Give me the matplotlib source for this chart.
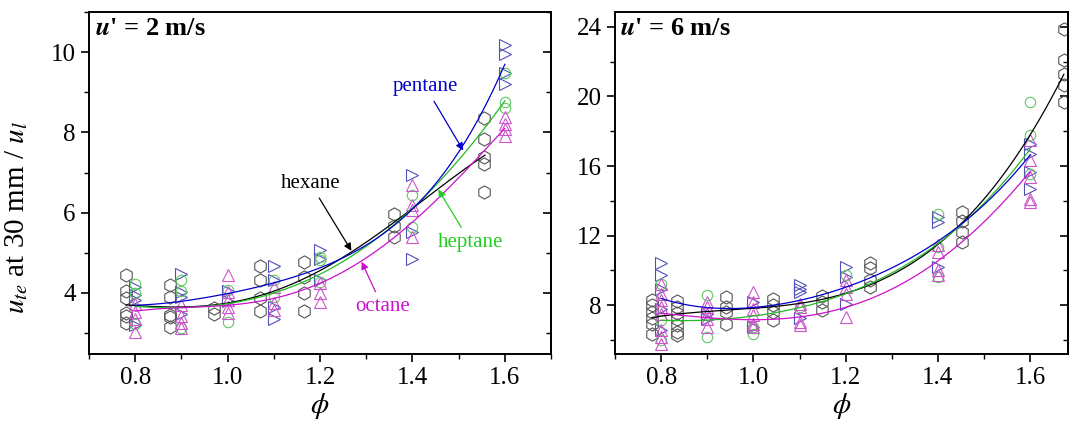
import numpy as np
import matplotlib
matplotlib.use("Agg")
import matplotlib.pyplot as plt
from matplotlib.ticker import MultipleLocator

plt.rcParams['font.family'] = ['Liberation Serif', 'DejaVu Serif']
plt.rcParams['mathtext.fontset'] = 'stix'

# ---- u' = 2 m/s : measured points ----
hex2_phi = [0.78]*6 + [0.875]*5 + [0.97]*2 + [1.07]*4 + [1.165]*4 + [1.36]*3 + [1.555]*5
hex2_val = [4.45, 4.05, 3.88, 3.50, 3.42, 3.25,
            4.20, 3.89, 3.45, 3.41, 3.16,
            3.62, 3.47,
            4.68, 4.32, 3.87, 3.55,
            4.78, 4.39, 4.00, 3.55,
            5.98, 5.67, 5.40,
            8.35, 7.84, 7.38, 7.22, 6.51]
pen2_phi = [0.8]*4 + [0.9]*4 + [1.0]*2 + [1.1]*4 + [1.2]*3 + [1.4]*3 + [1.6]*4
pen2_val = [4.15, 3.95, 3.83, 3.20,
            4.47, 4.03, 3.89, 3.47,
            4.05, 3.80,
            4.68, 4.32, 3.66, 3.35,
            5.08, 4.84, 4.32,
            6.93, 5.52, 4.84,
            10.17, 9.95, 9.49, 9.20]
hep2_phi = [0.8]*3 + [0.9]*3 + [1.0]*2 + [1.1]*2 + [1.2]*3 + [1.4]*2 + [1.6]*3
hep2_val = [4.22, 4.00, 3.22,
            4.32, 4.05, 3.12,
            4.07, 3.27,
            4.32, 3.90,
            4.90, 4.82, 4.28,
            6.45, 5.65,
            9.47, 8.75, 8.62]
oct2_phi = [0.8]*4 + [0.9]*4 + [1.0]*5 + [1.1]*3 + [1.2]*3 + [1.4]*4 + [1.6]*4
oct2_val = [3.73, 3.52, 3.35, 3.04,
            3.70, 3.42, 3.26, 3.12,
            4.45, 4.03, 3.83, 3.66, 3.50,
            4.16, 3.75, 3.58,
            4.26, 4.00, 3.78,
            6.68, 6.18, 6.06, 5.40,
            8.38, 8.21, 8.09, 7.92]

# ---- u' = 2 m/s : fitted curves ----
hex2_fit_phi = [0.78, 0.9, 1.0, 1.1, 1.2, 1.3, 1.4, 1.5, 1.557]
hex2_fit_val = [3.70, 3.66, 3.76, 4.02, 4.55, 5.30, 6.10, 6.95, 7.45]
pen2_fit_phi = [0.8, 0.9, 1.0, 1.1, 1.2, 1.3, 1.4, 1.5, 1.6]
pen2_fit_val = [3.69, 3.81, 3.98, 4.24, 4.62, 5.22, 6.08, 7.50, 9.70]
hep2_fit_phi = [0.8, 0.9, 1.0, 1.1, 1.2, 1.3, 1.4, 1.5, 1.6]
hep2_fit_val = [3.66, 3.65, 3.73, 3.99, 4.45, 5.20, 6.10, 7.30, 8.79]
oct2_fit_phi = [0.8, 0.9, 1.0, 1.1, 1.2, 1.3, 1.4, 1.5, 1.6]
oct2_fit_val = [3.56, 3.60, 3.70, 3.91, 4.22, 4.86, 5.75, 6.90, 8.09]

# ---- u' = 6 m/s : measured points ----
hex6_phi = [0.78]*6 + [0.834]*7 + [0.94]*4 + [1.043]*4 + [1.148]*3 + [1.253]*4 + [1.453]*4 + [1.673]*5
hex6_val = [8.33, 8.00, 7.62, 7.29, 6.91, 6.37,
            8.25, 7.90, 7.56, 7.23, 6.85, 6.47, 6.28,
            8.48, 7.90, 7.62, 6.95,
            8.38, 8.00, 7.62, 7.14,
            8.52, 8.19, 7.71,
            10.40, 10.15, 9.44, 9.05,
            13.36, 12.85, 12.21, 11.64,
            23.90, 22.08, 21.28, 20.64, 19.68]
pen6_phi = [0.8]*5 + [0.9]*2 + [1.0]*2 + [1.1]*4 + [1.2]*3 + [1.4]*3 + [1.6]*4
pen6_val = [10.43, 9.72, 8.96, 7.81, 6.56,
            7.52, 7.20,
            8.19, 6.75,
            9.15, 8.96, 8.76, 7.25,
            10.17, 9.63, 8.10,
            13.07, 12.79, 10.20,
            17.29, 16.68, 15.66, 14.70]
hep6_phi = [0.8]*3 + [0.9]*2 + [1.0]*2 + [1.1] + [1.2] + [1.4]*3 + [1.6]*3
hep6_val = [9.25, 7.14, 5.99,
            8.57, 6.18,
            6.75, 6.37,
            7.90,
            9.72,
            13.27, 11.35, 9.63,
            19.68, 17.77, 15.57]
oct6_phi = [0.8]*8 + [0.9]*5 + [1.0]*6 + [1.1]*4 + [1.2]*4 + [1.4]*4 + [1.6]*5
oct6_val = [9.25, 8.67, 8.29, 7.90, 7.52, 6.56, 6.18, 5.80,
            8.19, 7.90, 7.52, 7.23, 6.75,
            8.76, 8.19, 7.81, 7.43, 6.95, 6.75,
            8.10, 7.90, 7.04, 6.85,
            9.44, 9.05, 8.67, 7.33,
            11.45, 11.06, 10.01, 9.72,
            17.48, 16.33, 15.37, 14.13, 13.94]

# ---- u' = 6 m/s : fitted curves ----
hex6_fit_phi = [0.78, 0.9, 1.0, 1.1, 1.2, 1.3, 1.4, 1.513, 1.599, 1.673]
hex6_fit_val = [7.33, 7.52, 7.87, 8.25, 8.62, 9.63, 11.60, 14.42, 17.87, 21.22]
pen6_fit_phi = [0.8, 0.85, 0.9, 1.0, 1.1, 1.2, 1.3, 1.4, 1.5, 1.6]
pen6_fit_val = [8.40, 8.05, 7.85, 7.85, 8.33, 9.05, 10.11, 11.64, 13.84, 16.62]
hep6_fit_phi = [0.8, 0.9, 1.0, 1.1, 1.2, 1.3, 1.4, 1.513, 1.6]
hep6_fit_val = [7.14, 7.14, 7.43, 7.81, 8.67, 9.82, 11.64, 14.13, 17.00]
oct6_fit_phi = [0.8, 0.9, 1.0, 1.1, 1.2, 1.3, 1.4, 1.5, 1.6]
oct6_fit_val = [7.56, 7.23, 7.18, 7.37, 7.92, 8.86, 10.49, 12.89, 15.66]

# marker / line styles per fuel
styles = {
    'hexane':  dict(marker='h', mec='#555555', ms=9.5, line='#000000'),
    'pentane': dict(marker='>', mec='#5050b8', ms=8.5, line='#0000cc'),
    'heptane': dict(marker='o', mec='#60c860', ms=7.5, line='#22bb22'),
    'octane':  dict(marker='^', mec='#cc55cc', ms=8.5, line='#cc11cc'),
}


def draw_fit(ax, phi, val, color):
    coef = np.polyfit(phi, val, 4)
    xs = np.linspace(min(phi), max(phi), 200)
    ax.plot(xs, np.polyval(coef, xs), color=color, lw=0.9, zorder=3)


def draw_panel(ax, points, fits):
    for name in ['hexane', 'pentane', 'heptane', 'octane']:
        st = styles[name]
        ph, vv = points[name]
        ax.plot(ph, vv, linestyle='none', marker=st['marker'], mfc='none',
                mec=st['mec'], ms=st['ms'], mew=0.8, zorder=2)
    for name in ['hexane', 'heptane', 'pentane', 'octane']:
        ph, vv = fits[name]
        draw_fit(ax, ph, vv, styles[name]['line'])
    for s in ax.spines.values():
        s.set_linewidth(1.4)
    ax.xaxis.set_major_locator(MultipleLocator(0.2))
    ax.xaxis.set_minor_locator(MultipleLocator(0.1))
    ax.tick_params(axis='both', which='both', labelsize=18)
    ax.tick_params(axis='x', which='major', direction='out', length=6, width=1.2, top=False)
    ax.tick_params(axis='x', which='minor', direction='out', length=3.5, width=1.0, top=False)
    ax.tick_params(axis='y', which='major', direction='out', length=6, width=1.2)
    ax.tick_params(axis='y', which='minor', direction='out', length=3.5, width=1.0)
    ax.set_xlabel(r'$\phi$', fontsize=21, labelpad=1)
    # mirrored ticks on the right side, pointing inwards
    sec = ax.secondary_yaxis('right')
    sec.tick_params(which='major', direction='in', length=6, width=1.2, labelright=False)
    sec.tick_params(which='minor', direction='in', length=3.5, width=1.0, labelright=False)
    sec.spines['right'].set_linewidth(1.4)
    return sec


fig = plt.figure(figsize=(10.69, 4.26), dpi=100)
ax1 = fig.add_axes([89 / 1069, 72 / 426, 462 / 1069, 342 / 426])
ax2 = fig.add_axes([615 / 1069, 72 / 426, 453 / 1069, 342 / 426])

sec1 = draw_panel(ax1,
                  {'hexane': (hex2_phi, hex2_val), 'pentane': (pen2_phi, pen2_val),
                   'heptane': (hep2_phi, hep2_val), 'octane': (oct2_phi, oct2_val)},
                  {'hexane': (hex2_fit_phi, hex2_fit_val), 'pentane': (pen2_fit_phi, pen2_fit_val),
                   'heptane': (hep2_fit_phi, hep2_fit_val), 'octane': (oct2_fit_phi, oct2_fit_val)})
sec2 = draw_panel(ax2,
                  {'hexane': (hex6_phi, hex6_val), 'pentane': (pen6_phi, pen6_val),
                   'heptane': (hep6_phi, hep6_val), 'octane': (oct6_phi, oct6_val)},
                  {'hexane': (hex6_fit_phi, hex6_fit_val), 'pentane': (pen6_fit_phi, pen6_fit_val),
                   'heptane': (hep6_fit_phi, hep6_fit_val), 'octane': (oct6_fit_phi, oct6_fit_val)})

ax1.set_xlim(0.7, 1.7)
ax1.set_ylim(2.48, 11.0)
ax1.yaxis.set_major_locator(MultipleLocator(2))
ax1.yaxis.set_minor_locator(MultipleLocator(1))
sec1.yaxis.set_major_locator(MultipleLocator(2))
sec1.yaxis.set_minor_locator(MultipleLocator(1))
ax1.set_ylabel(r'$u_{te}$ at 30 mm / $u_l$', fontsize=21)
ax1.yaxis.set_label_coords(-0.128, 0.40)

ax2.set_xlim(0.7, 1.682)
ax2.set_ylim(5.2, 24.85)
ax2.yaxis.set_major_locator(MultipleLocator(4))
ax2.yaxis.set_minor_locator(MultipleLocator(2))
sec2.yaxis.set_major_locator(MultipleLocator(4))
sec2.yaxis.set_minor_locator(MultipleLocator(2))

ax1.text(0.012, 0.985, r"$\mathbfit{u}$' = 2 m/s", transform=ax1.transAxes,
         fontsize=19, fontweight='bold', va='top', ha='left')
ax2.text(0.012, 0.985, r"$\mathbfit{u}$' = 6 m/s", transform=ax2.transAxes,
         fontsize=19, fontweight='bold', va='top', ha='left')

arrow_kw = dict(arrowstyle='-|>', lw=0.9, mutation_scale=11, shrinkA=2, shrinkB=0)
ax1.annotate('pentane', xy=(1.51, 7.55), xytext=(1.428, 9.14), color='#0000cc',
             fontsize=15, ha='center', va='center',
             arrowprops=dict(color='#0000cc', **arrow_kw))
ax1.annotate('hexane', xy=(1.268, 5.05), xytext=(1.179, 6.73), color='black',
             fontsize=15, ha='center', va='center',
             arrowprops=dict(color='black', **arrow_kw))
ax1.annotate('heptane', xy=(1.456, 6.58), xytext=(1.525, 5.27), color='#22cc22',
             fontsize=15, ha='center', va='center',
             arrowprops=dict(color='#22cc22', **arrow_kw))
ax1.annotate('octane', xy=(1.29, 4.78), xytext=(1.335, 3.66), color='#cc11cc',
             fontsize=15, ha='center', va='center',
             arrowprops=dict(color='#cc11cc', **arrow_kw))

fig.savefig('out.png', dpi=100)
